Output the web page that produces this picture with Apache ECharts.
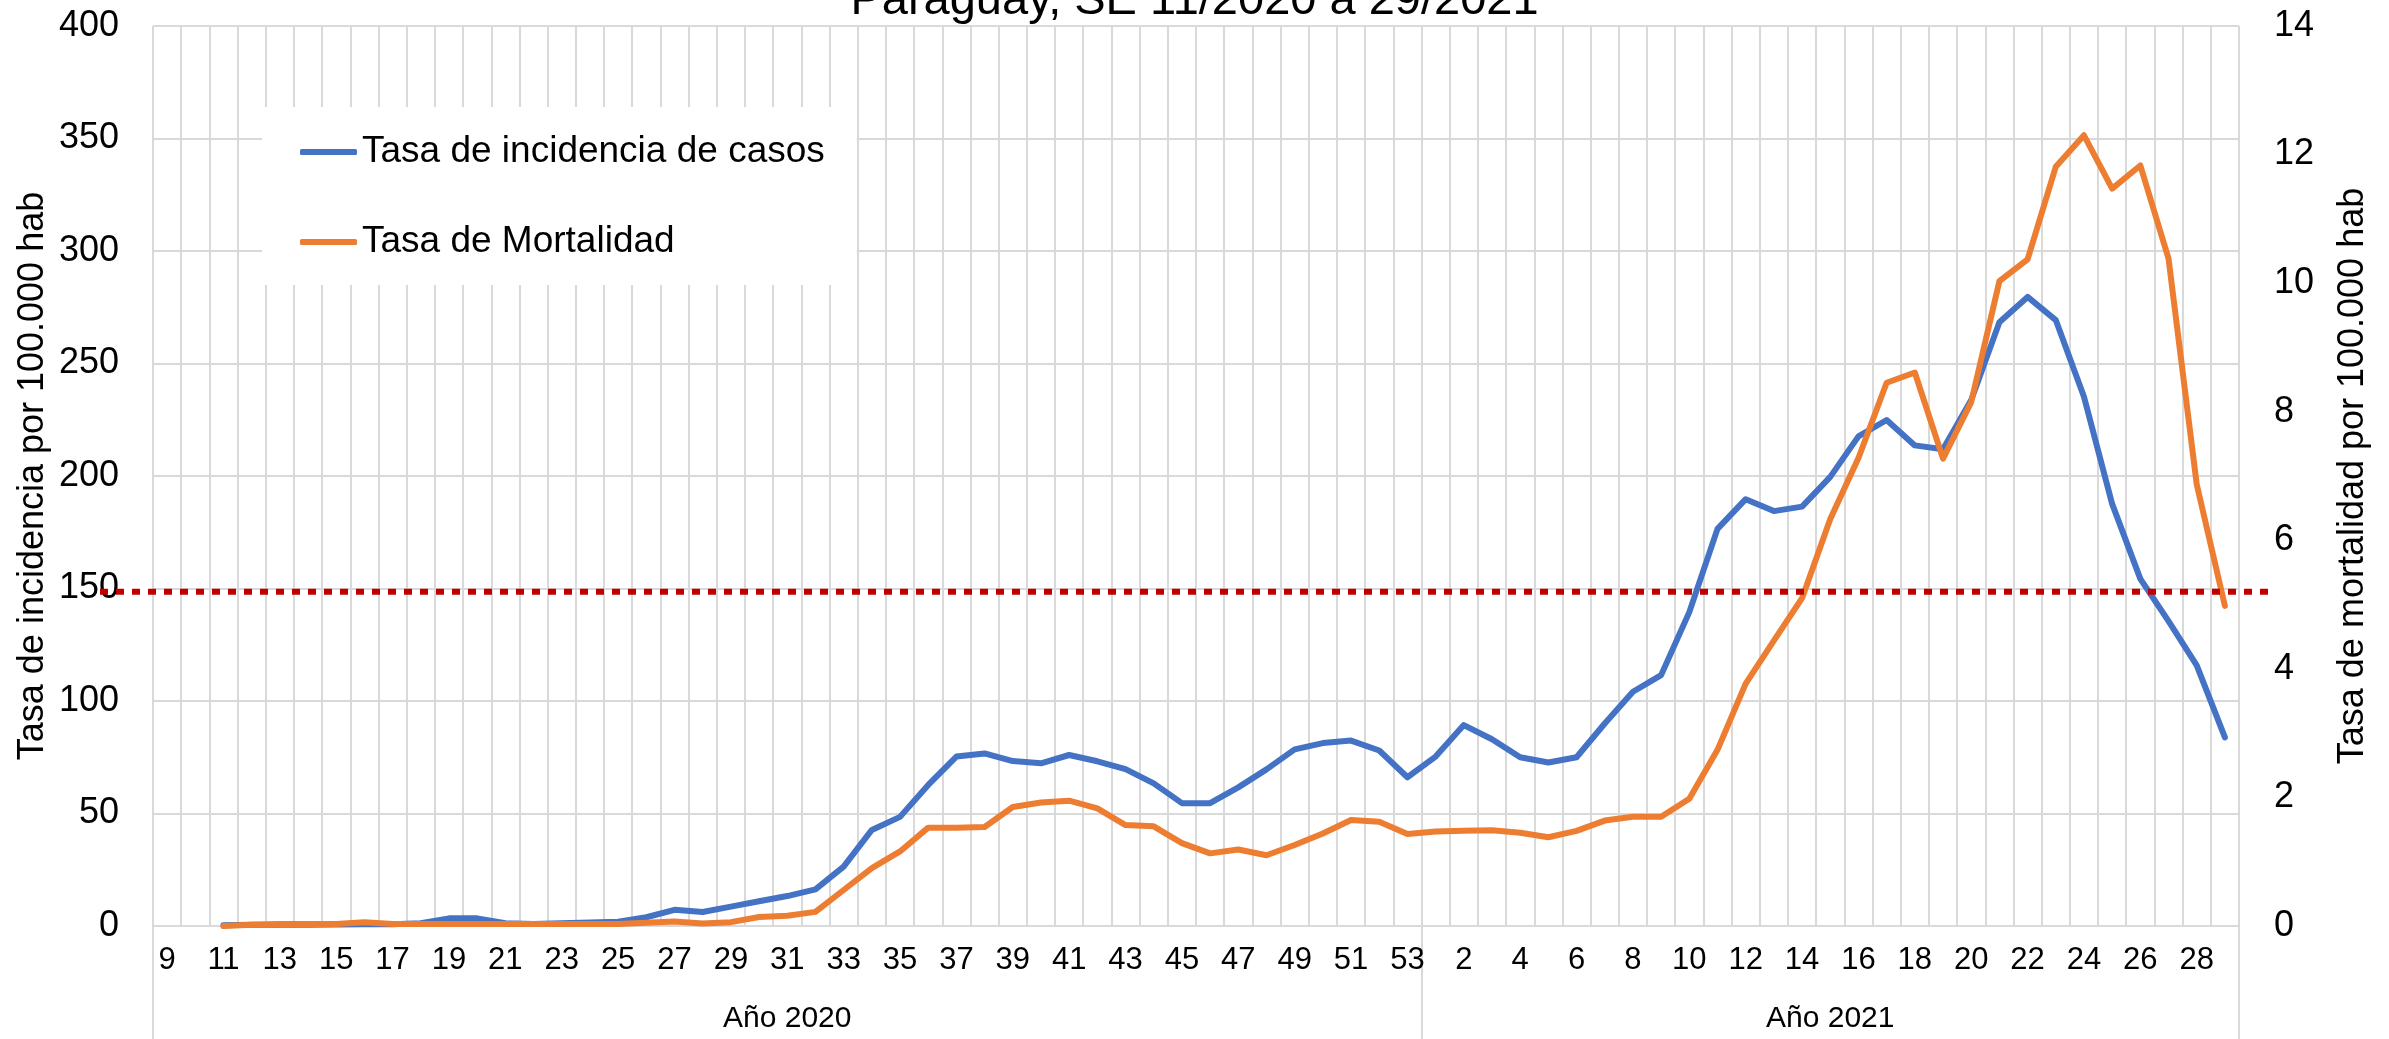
<!DOCTYPE html>
<html>
<head>
<meta charset="utf-8">
<script src="https://cdn.jsdelivr.net/npm/echarts@6/dist/echarts.min.js"></script>
<style>
  html, body { margin: 0; padding: 0; background: #fff; }
  #chart { width: 2389px; height: 1039px; }
</style>
</head>
<body>
<div id="chart"></div>
<script>
// Semanas epidemiologicas
var weeks2020 = [9, 10, 11, 12, 13, 14, 15, 16, 17, 18, 19, 20, 21, 22, 23, 24, 25, 26, 27, 28, 29, 30, 31,
    32, 33, 34, 35, 36, 37, 38, 39, 40, 41, 42, 43, 44, 45, 46, 47, 48, 49, 50, 51, 52, 53];
var weeks2021 = [1, 2, 3, 4, 5, 6, 7, 8, 9, 10, 11, 12, 13, 14, 15, 16, 17, 18, 19, 20, 21, 22, 23, 24,
    25, 26, 27, 28, 29];
var yearLabels = ['Año 2020', 'Año 2021'];

// Tasa de incidencia por 100.000 hab (eje izquierdo)
var incidencia2020 = [null, null, 0.3, 0.6, 0.6, 0.6, 0.7, 0.8, 0.8, 1.2, 3.4, 3.4, 1.2, 0.9, 1.2, 1.6,
    1.9, 3.9, 7.2, 6.2, 8.6, 11.0, 13.3, 16.3, 26.4, 42.7, 48.5, 62.7, 75.3, 76.7, 73.3, 72.3, 76.0,
    73.2, 69.7, 63.4, 54.6, 54.6, 61.6, 69.6, 78.5, 81.3, 82.4, 78.0, 66.1];
var incidencia2021 = [75.3, 89.3, 83.0, 75.0, 72.7, 75.0, 90.0, 104.1, 111.5, 139.5, 176.5, 189.7, 184.4,
    186.4, 199.6, 217.6, 224.9, 213.6, 211.9, 233.8, 268.3, 279.6, 269.3, 235.2, 187.6, 154.3, 135.5,
    115.8, 83.8];

// Tasa de mortalidad por 100.000 hab (eje derecho)
var mortalidad2020 = [null, null, 0, 0.02, 0.03, 0.03, 0.03, 0.06, 0.03, 0.03, 0.03, 0.03, 0.03, 0.03,
    0.03, 0.03, 0.03, 0.05, 0.07, 0.04, 0.06, 0.14, 0.16, 0.22, 0.56, 0.9, 1.16, 1.53, 1.53, 1.54, 1.85,
    1.92, 1.95, 1.83, 1.57, 1.55, 1.29, 1.13, 1.19, 1.10, 1.26, 1.44, 1.65, 1.62, 1.43];
var mortalidad2021 = [1.47, 1.48, 1.49, 1.45, 1.38, 1.48, 1.64, 1.70, 1.70, 1.98, 2.74, 3.77, 4.44, 5.10,
    6.33, 7.28, 8.45, 8.61, 7.27, 8.15, 10.03, 10.37, 11.81, 12.30, 11.47, 11.83, 10.38, 6.87, 4.98];

// linea de referencia (punteada roja)
var umbral = 148.6;

var FONT = "'Liberation Sans', Arial, sans-serif";
var GRID_COLOR = '#d9d9d9';

var categories = weeks2020.concat(weeks2021).map(String);
var incidencia = incidencia2020.concat(incidencia2021);
var mortalidad = mortalidad2020.concat(mortalidad2021);

// year of every category + index at the middle of each year block
var yearOfCat = [];
weeks2020.forEach(function () { yearOfCat.push(yearLabels[0]); });
weeks2021.forEach(function () { yearOfCat.push(yearLabels[1]); });
var splitIdx = weeks2020.length;
var mid2020 = Math.floor(weeks2020.length / 2);
var mid2021 = splitIdx + Math.floor(weeks2021.length / 2);

var myChart = echarts.init(document.getElementById('chart'));

var option = {
    animation: false,
    backgroundColor: '#fff',
    title: {
        text: 'Paraguay, SE 11/2020 a 29/2021',
        left: 'center',
        top: -27,
        textStyle: { fontFamily: FONT, fontSize: 47, fontWeight: 'normal', color: '#000' }
    },
    legend: {
        data: ['Tasa de incidencia de casos', 'Tasa de Mortalidad'],
        orient: 'vertical',
        left: 262,
        top: 107,
        padding: [25, 32, 23, 38],
        backgroundColor: '#fff',
        itemWidth: 57,
        itemHeight: 6,
        itemGap: 50,
        icon: 'roundRect',
        textStyle: { fontFamily: FONT, fontSize: 37, color: '#000', lineHeight: 40 }
    },
    grid: [{
        left: 153, right: 150, top: 26, bottom: 113,
        outerBoundsMode: 'none'
    }, {
        // wider box only for the dotted reference line
        left: 100, right: 119, top: 26, bottom: 113,
        outerBoundsMode: 'none'
    }],
    xAxis: [{
        type: 'category',
        gridIndex: 0,
        data: categories,
        boundaryGap: true,
        axisLine: { show: true, lineStyle: { color: GRID_COLOR, width: 2 } },
        axisTick: {
            show: true,
            length: 113,
            interval: function (i) { return i === 0 || i === splitIdx; },
            lineStyle: { color: GRID_COLOR, width: 2 }
        },
        axisLabel: {
            interval: 1,
            margin: 19,
            fontFamily: FONT,
            fontSize: 31,
            color: '#000'
        },
        splitLine: { show: true, interval: 0, lineStyle: { color: GRID_COLOR, width: 2 } }
    }, {
        type: 'category',
        gridIndex: 0,
        position: 'bottom',
        data: yearOfCat,
        boundaryGap: true,
        axisLine: { show: false },
        axisTick: { show: false },
        splitLine: { show: false },
        axisLabel: {
            interval: function (i) { return i === mid2020 || i === mid2021; },
            margin: 78,
            fontFamily: FONT,
            fontSize: 30,
            color: '#000'
        }
    }, {
        type: 'category',
        gridIndex: 1,
        data: ['a', 'b'],
        boundaryGap: false,
        show: false
    }],
    yAxis: [{
        type: 'value',
        gridIndex: 0,
        min: 0,
        max: 400,
        interval: 50,
        name: 'Tasa de incidencia por 100.000 hab',
        nameLocation: 'middle',
        nameRotate: 90,
        nameGap: 102,
        nameMoveOverlap: false,
        nameTextStyle: { fontFamily: FONT, fontSize: 36, color: '#000' },
        axisLine: { show: false },
        axisTick: { show: false },
        axisLabel: { margin: 34, fontFamily: FONT, fontSize: 36, color: '#000' },
        splitLine: { show: true, lineStyle: { color: GRID_COLOR, width: 2 } }
    }, {
        type: 'value',
        gridIndex: 0,
        position: 'right',
        min: 0,
        max: 14,
        interval: 2,
        name: 'Tasa de mortalidad por 100.000 hab',
        nameLocation: 'middle',
        nameRotate: 90,
        nameGap: 96,
        nameMoveOverlap: false,
        nameTextStyle: { fontFamily: FONT, fontSize: 36, color: '#000' },
        axisLine: { show: false },
        axisTick: { show: false },
        axisLabel: { margin: 35, fontFamily: FONT, fontSize: 36, color: '#000' },
        splitLine: { show: false }
    }, {
        type: 'value',
        gridIndex: 1,
        min: 0,
        max: 400,
        show: false
    }],
    series: [{
        name: 'Tasa de incidencia de casos',
        type: 'line',
        xAxisIndex: 0,
        yAxisIndex: 0,
        data: incidencia,
        showSymbol: false,
        symbol: 'none',
        itemStyle: { color: '#4472C4' },
        lineStyle: { color: '#4472C4', width: 6, join: 'round', cap: 'round' }
    }, {
        name: 'Tasa de Mortalidad',
        type: 'line',
        xAxisIndex: 0,
        yAxisIndex: 1,
        data: mortalidad,
        showSymbol: false,
        symbol: 'none',
        itemStyle: { color: '#ED7D31' },
        lineStyle: { color: '#ED7D31', width: 6, join: 'round', cap: 'round' }
    }, {
        name: 'umbral',
        type: 'line',
        xAxisIndex: 2,
        yAxisIndex: 2,
        data: [umbral, umbral],
        symbol: 'none',
        silent: true,
        z: 5,
        lineStyle: { color: '#C00000', width: 6, type: [8, 8], cap: 'butt' }
    }]
};

myChart.setOption(option);
</script>
</body>
</html>
